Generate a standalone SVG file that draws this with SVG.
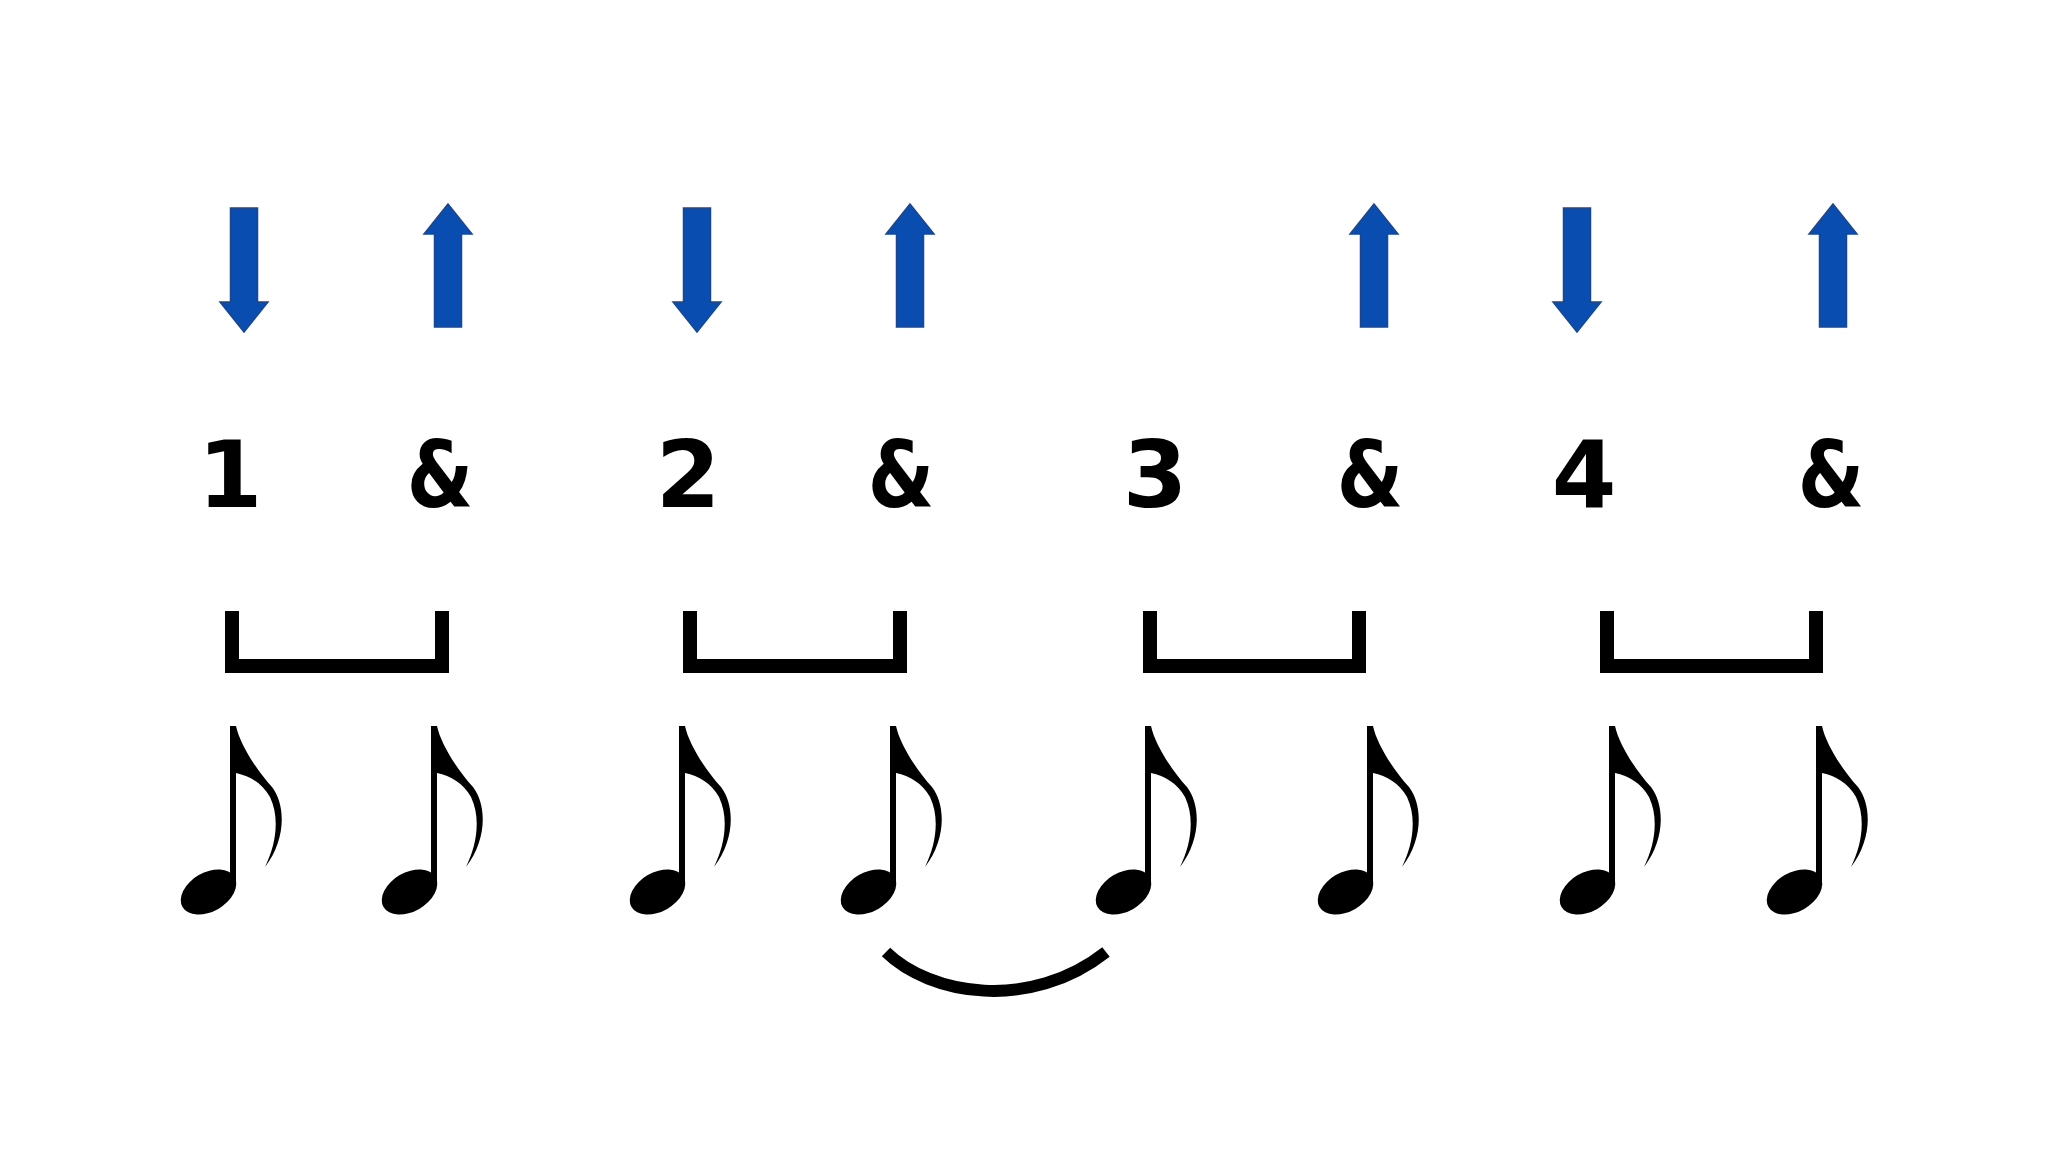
<svg xmlns="http://www.w3.org/2000/svg" xmlns:xlink="http://www.w3.org/1999/xlink" width="2048" height="1152" viewBox="0 0 2048 1152">
<style>
.arrow{fill:#0A4DB0;stroke:#1B4690;stroke-width:1.5;stroke-linejoin:miter}
.count{font-family:"DejaVu Sans","Liberation Sans",sans-serif;font-weight:bold;font-size:93px;fill:#000;text-anchor:middle}
.bracket{fill:none;stroke:#000;stroke-width:14;stroke-linejoin:miter;stroke-linecap:butt}
.note{fill:#000}
.slur{fill:none;stroke:#000;stroke-width:12;stroke-linecap:butt}
</style>
<defs>
<path id="down" d="M-13.5,208 H13.5 V302 H24 L0,332 L-24,302 H-13.5 Z"/>
<path id="up" d="M0,204 L24,234 H13.5 V327 H-13.5 V234 H-24 Z"/>
<g id="eighth">
<rect x="230" y="726" width="6" height="160"/>
<path d="M236,726 C240,745 258,772 272,787 C286,805 286,840 265,867 C276,845 280,818 270,797 C262,783 250,776 236,773 Z"/>
<ellipse cx="208.5" cy="892" rx="30" ry="19.5" transform="rotate(-30 208.5 892)"/>
</g>
</defs>
<rect width="2048" height="1152" fill="#fff"/>
<g id="strums">
<g id="arrow-1"><use xlink:href="#down" class="arrow" transform="translate(244,0)"/></g>
<g id="arrow-2"><use xlink:href="#up" class="arrow" transform="translate(448,0)"/></g>
<g id="arrow-3"><use xlink:href="#down" class="arrow" transform="translate(697,0)"/></g>
<g id="arrow-4"><use xlink:href="#up" class="arrow" transform="translate(910,0)"/></g>
<g id="arrow-6"><use xlink:href="#up" class="arrow" transform="translate(1374,0)"/></g>
<g id="arrow-7"><use xlink:href="#down" class="arrow" transform="translate(1577,0)"/></g>
<g id="arrow-8"><use xlink:href="#up" class="arrow" transform="translate(1833,0)"/></g>
</g>
<g id="counts">
<g id="count-1"><text class="count" x="230" y="507">1</text></g>
<g id="count-1and" transform="translate(440,507) scale(0.82,1)"><text class="count" x="0" y="0">&amp;</text></g>
<g id="count-2"><text class="count" x="688" y="507">2</text></g>
<g id="count-2and" transform="translate(901,507) scale(0.82,1)"><text class="count" x="0" y="0">&amp;</text></g>
<g id="count-3"><text class="count" x="1155" y="507">3</text></g>
<g id="count-3and" transform="translate(1370,507) scale(0.82,1)"><text class="count" x="0" y="0">&amp;</text></g>
<g id="count-4"><text class="count" x="1584" y="507">4</text></g>
<g id="count-4and" transform="translate(1831,507) scale(0.82,1)"><text class="count" x="0" y="0">&amp;</text></g>
</g>
<g id="brackets">
<g id="bracket-1"><path class="bracket" d="M232,611 V666 H442 V611"/></g>
<g id="bracket-2"><path class="bracket" d="M690,611 V666 H900 V611"/></g>
<g id="bracket-3"><path class="bracket" d="M1150,611 V666 H1359 V611"/></g>
<g id="bracket-4"><path class="bracket" d="M1607,611 V666 H1816 V611"/></g>
</g>
<g id="notes" class="note">
<g id="note-1"><use xlink:href="#eighth"/></g>
<g id="note-2"><use xlink:href="#eighth" transform="translate(201,0)"/></g>
<g id="note-3"><use xlink:href="#eighth" transform="translate(449,0)"/></g>
<g id="note-4"><use xlink:href="#eighth" transform="translate(660,0)"/></g>
<g id="note-5"><use xlink:href="#eighth" transform="translate(915,0)"/></g>
<g id="note-6"><use xlink:href="#eighth" transform="translate(1137,0)"/></g>
<g id="note-7"><use xlink:href="#eighth" transform="translate(1379,0)"/></g>
<g id="note-8"><use xlink:href="#eighth" transform="translate(1586,0)"/></g>
</g>
<g id="connectors">
<path id="tie" class="slur" d="M886,952 C930,995 1030,1012 1106,952"/>
</g>
</svg>
